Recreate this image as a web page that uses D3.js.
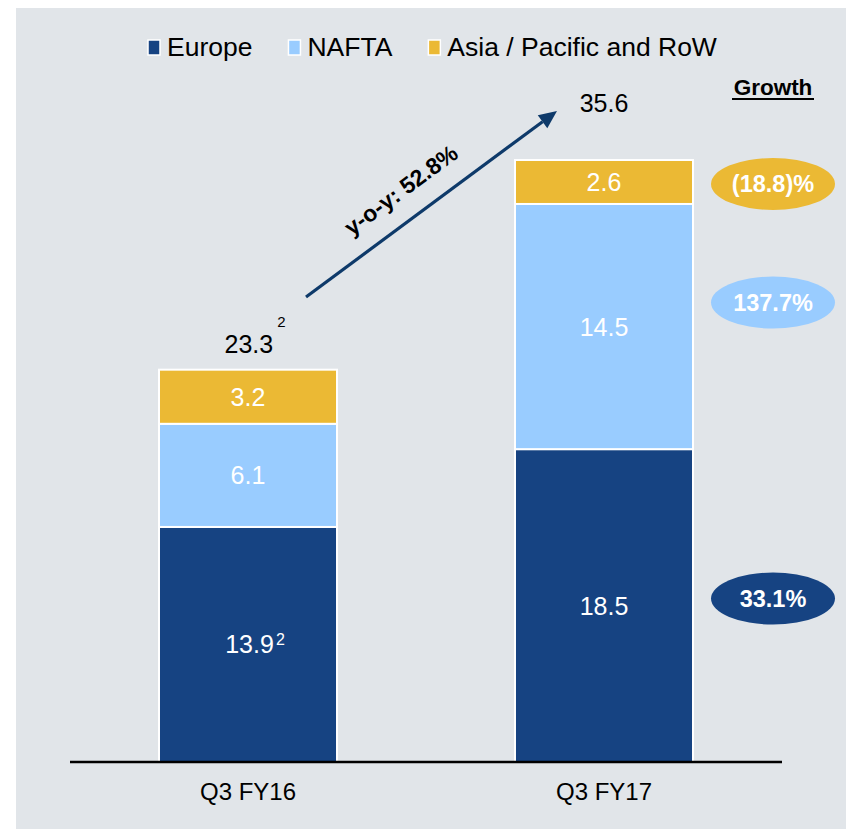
<!DOCTYPE html>
<html>
<head>
<meta charset="utf-8">
<script src="https://cdn.jsdelivr.net/npm/d3@7"></script>
<style>
  html, body { margin: 0; padding: 0; background: #ffffff; }
  svg { display: block; }
  text { font-family: "Liberation Sans", Arial, sans-serif; }
</style>
</head>
<body>
<div id="chart"></div>
<script>
// ---- data ----
const categories = ["Q3 FY16", "Q3 FY17"];
const seriesNames = ["Europe", "NAFTA", "Asia / Pacific and RoW"];
const europe = [13.9, 18.5];
const nafta  = [6.1, 14.5];
const asia   = [3.2, 2.6];
const europeLabels = ["13.9", "18.5"];
const europeSup    = ["2", ""];
const naftaLabels  = ["6.1", "14.5"];
const asiaLabels   = ["3.2", "2.6"];
const totalLabels  = ["23.3", "35.6"];
const totalSup     = ["2", ""];
const growthLabels = ["33.1%", "137.7%", "(18.8)%"]; // Europe, NAFTA, Asia
const yoyLabel = "y-o-y: 52.8%";
const growthTitle = "Growth";

const colors = ["#164382", "#99ccff", "#ebb934"];

const W = 846, H = 829;
const svg = d3.select("#chart").append("svg").attr("width", W).attr("height", H);

// background panel
svg.append("rect").attr("x", 16).attr("y", 8).attr("width", W - 16).attr("height", H - 8).attr("fill", "#e1e5e9");

const x = d3.scaleBand().domain(categories).range([70, 782]).paddingInner(0.5).paddingOuter(0.25);
const y = d3.scaleLinear().domain([0, 35.6]).range([762, 160]);

const rows = categories.map((c, i) => ({ cat: c, values: [europe[i], nafta[i], asia[i]] }));
const stack = d3.stack().keys([0, 1, 2]).value((d, k) => d.values[k]);
const stacked = stack(rows);

const g = svg.append("g");
stacked.forEach((layer, k) => {
  g.selectAll(null).data(layer).enter().append("rect")
    .attr("x", d => x(d.data.cat))
    .attr("width", x.bandwidth())
    .attr("y", d => y(d[1]))
    .attr("height", d => y(d[0]) - y(d[1]))
    .attr("fill", colors[k])
    .attr("stroke", "#ffffff")
    .attr("stroke-width", 2);
});

// segment labels
const segLabels = [europeLabels, naftaLabels, asiaLabels];
stacked.forEach((layer, k) => {
  layer.forEach((d, i) => {
    const cx = x(d.data.cat) + x.bandwidth() / 2;
    const cy = (y(d[0]) + y(d[1])) / 2;
    const sup = k === 0 ? europeSup[i] : "";
    const t = g.append("text")
      .attr("x", cx + (sup ? 7 : 0))
      .attr("y", cy + 9)
      .attr("text-anchor", "middle")
      .attr("fill", "#ffffff")
      .attr("font-size", 25)
      .text(segLabels[k][i]);
    if (sup) {
      t.append("tspan").attr("font-size", 16).attr("dx", 2).attr("dy", -8).text(sup);
    }
  });
});

// total labels
rows.forEach((r, i) => {
  const total = d3.sum(r.values);
  const cx = x(r.cat) + x.bandwidth() / 2;
  const ty = i === 0 ? y(total) - 17 : y(total) - 48;
  const t = g.append("text")
    .attr("x", cx + (totalSup[i] ? 7 : 0))
    .attr("y", ty)
    .attr("text-anchor", "middle")
    .attr("fill", "#000000")
    .attr("font-size", 25)
    .text(totalLabels[i]);
  if (totalSup[i]) {
    t.append("tspan").attr("font-size", 15).attr("dx", 4).attr("dy", -26).text(totalSup[i]);
  }
});

// x axis
svg.append("line").attr("x1", 70).attr("x2", 782).attr("y1", y(0)).attr("y2", y(0))
  .attr("stroke", "#000").attr("stroke-width", 2.5);
categories.forEach(c => {
  svg.append("text").attr("x", x(c) + x.bandwidth() / 2).attr("y", 800)
    .attr("text-anchor", "middle").attr("font-size", 24).attr("fill", "#000").text(c);
});

// legend
const leg = svg.append("g");
let lx = 148;
seriesNames.forEach((n, k) => {
  leg.append("rect").attr("x", lx).attr("y", 40).attr("width", 12).attr("height", 15)
    .attr("fill", colors[k]).attr("stroke", "#ffffff").attr("stroke-width", 1.5);
  const t = leg.append("text").attr("x", lx + 19).attr("y", 56).attr("font-size", 26.5).attr("fill", "#000").text(n);
  lx += 19 + t.node().getComputedTextLength() + 36;
});

// arrow
const ax1 = 306, ay1 = 297, ax2 = 557, ay2 = 111;
const ang = Math.atan2(ay2 - ay1, ax2 - ax1);
const headLen = 18, headW = 8;
const bx = ax2 - headLen * Math.cos(ang), by = ay2 - headLen * Math.sin(ang);
svg.append("line").attr("x1", ax1).attr("y1", ay1).attr("x2", bx).attr("y2", by)
  .attr("stroke", "#0e3a6a").attr("stroke-width", 3.2);
const px = -Math.sin(ang), py = Math.cos(ang);
svg.append("path")
  .attr("d", `M${ax2},${ay2}L${bx + px * headW},${by + py * headW}L${bx - px * headW},${by - py * headW}Z`)
  .attr("fill", "#0e3a6a");
svg.append("text")
  .attr("transform", `translate(401,190) rotate(${ang * 180 / Math.PI})`)
  .attr("text-anchor", "middle").attr("dy", 8)
  .attr("font-size", 23).attr("font-weight", "bold").attr("fill", "#000")
  .text(yoyLabel);

// growth column
svg.append("text").attr("x", 773).attr("y", 95).attr("text-anchor", "middle")
  .attr("font-size", 22.5).attr("font-weight", "bold").attr("fill", "#000").text(growthTitle);
svg.append("line").attr("x1", 732).attr("x2", 814).attr("y1", 99).attr("y2", 99)
  .attr("stroke", "#000").attr("stroke-width", 1.8);

const last = rows.length - 1;
const growthOffsets = [-7, -24, 2];
stacked.forEach((layer, k) => {
  const d = layer[last];
  const cy = (y(d[0]) + y(d[1])) / 2 + growthOffsets[k];
  svg.append("ellipse").attr("cx", 773).attr("cy", cy).attr("rx", 62).attr("ry", 26).attr("fill", colors[k]);
  svg.append("text").attr("x", 773).attr("y", cy + 8.5).attr("text-anchor", "middle")
    .attr("font-size", 23.5).attr("font-weight", "bold").attr("fill", "#ffffff").text(growthLabels[k]);
});
</script>
</body>
</html>
